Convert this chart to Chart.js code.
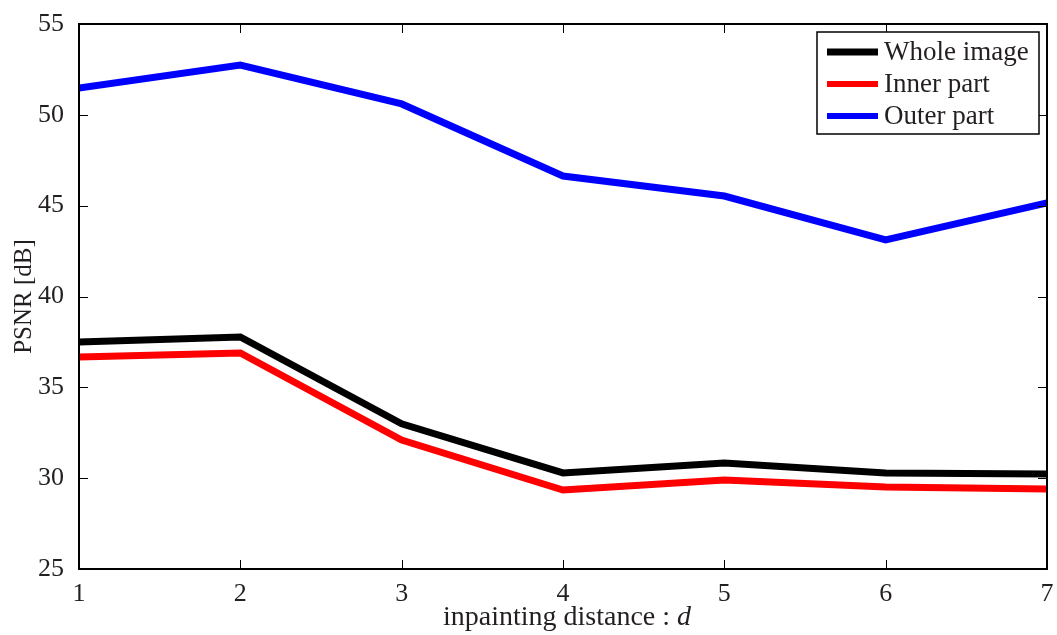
<!DOCTYPE html>
<html lang="en">
  <head>
    <meta charset="UTF-8">
    <title>PSNR vs inpainting distance</title>
    <style>
      body { margin: 0; background: #fff; }
    </style>
    <script src="https://cdn.jsdelivr.net/npm/chart.js"></script>
  </head>

  <body>
    <canvas id="myChart" width="1057" height="635"></canvas>

<script>
  const distances = [1, 2, 3, 4, 5, 6, 7];
  const wholeImage = [37.5, 37.77, 32.99, 30.29, 30.84, 30.29, 30.23];
  const innerPart = [36.67, 36.89, 32.1, 29.35, 29.9, 29.52, 29.41];
  const outerPart = [51.48, 52.74, 50.6, 46.63, 45.53, 43.11, 45.15];
  const yTicks = [25, 30, 35, 40, 45, 50, 55];

  const textColor = '#231f20';
  const serif = '"Liberation Serif", "Times New Roman", serif';

  function toPoints(values) {
    return distances.map((d, i) => ({ x: d, y: values[i] }));
  }

  // matlab style box, inward ticks, legend and axis titles
  const matlabFrame = {
    id: 'matlabFrame',
    afterDraw(chart) {
      const c = chart.ctx;
      const a = chart.chartArea;
      const xs = chart.scales.x;
      const ys = chart.scales.y;
      c.save();
      c.strokeStyle = '#000';
      c.lineWidth = 2;
      c.strokeRect(a.left, a.top, a.right - a.left, a.bottom - a.top);

      c.lineWidth = 1;
      c.beginPath();
      distances.forEach(d => {
        const px = Math.round(xs.getPixelForValue(d)) + 0.5;
        c.moveTo(px, a.bottom); c.lineTo(px, a.bottom - 9);
        c.moveTo(px, a.top); c.lineTo(px, a.top + 9);
      });
      yTicks.forEach(v => {
        const py = Math.round(ys.getPixelForValue(v)) + 0.5;
        c.moveTo(a.left, py); c.lineTo(a.left + 9, py);
        c.moveTo(a.right, py); c.lineTo(a.right - 9, py);
      });
      c.stroke();

      // legend
      const lx = 817, ly = 32, lw = 222, lh = 102;
      c.fillStyle = '#fff';
      c.fillRect(lx, ly, lw, lh);
      c.strokeStyle = '#000';
      c.lineWidth = 1.5;
      c.strokeRect(lx, ly, lw, lh);
      c.font = '27px ' + serif;
      c.textBaseline = 'middle';
      chart.data.datasets.forEach((ds, i) => {
        const y = ly + 20 + i * 32;
        c.strokeStyle = ds.borderColor;
        c.lineWidth = i === 0 ? 7 : 6;
        c.beginPath();
        c.moveTo(lx + 10, y); c.lineTo(lx + 61, y);
        c.stroke();
        c.fillStyle = textColor;
        c.textAlign = 'left';
        c.fillText(ds.label, lx + 67, y + 1);
      });

      // x title with italic d
      c.fillStyle = textColor;
      c.textBaseline = 'alphabetic';
      c.textAlign = 'left';
      const t1 = 'inpainting distance : ';
      c.font = '28px ' + serif;
      const w1 = c.measureText(t1).width;
      c.font = 'italic 28px ' + serif;
      const w2 = c.measureText('d').width;
      const startX = (a.left + a.right) / 2 - (w1 + w2) / 2 + 4;
      c.font = '28px ' + serif;
      c.fillText(t1, startX, 625);
      c.font = 'italic 28px ' + serif;
      c.fillText('d', startX + w1, 625);

      // y title
      c.save();
      c.translate(24, (a.top + a.bottom) / 2);
      c.rotate(-Math.PI / 2);
      c.textAlign = 'center';
      c.textBaseline = 'middle';
      c.font = '25px ' + serif;
      c.fillText('PSNR [dB]', 0, 0);
      c.restore();

      c.restore();
    }
  };

  const chart = new Chart(document.getElementById('myChart'), {
    type: 'line',
    data: {
      datasets: [
        { label: 'Whole image', data: toPoints(wholeImage), borderColor: '#000000' },
        { label: 'Inner part', data: toPoints(innerPart), borderColor: '#ff0000' },
        { label: 'Outer part', data: toPoints(outerPart), borderColor: '#0000ff' },
      ]
    },
    options: {
      responsive: false,
      animation: false,
      layout: { padding: { top: 24, right: 10, left: 0, bottom: 0 } },
      elements: {
        line: { borderWidth: 7, tension: 0, borderJoinStyle: 'miter' },
        point: { radius: 0 }
      },
      plugins: {
        legend: { display: false },
        tooltip: { enabled: false }
      },
      scales: {
        x: {
          type: 'linear',
          min: 1,
          max: 7,
          afterFit: s => { s.height = 66; },
          afterBuildTicks: s => { s.ticks = distances.map(v => ({ value: v })); },
          grid: { display: false },
          border: { display: false },
          ticks: { color: textColor, font: { family: serif, size: 26 }, padding: 2, maxRotation: 0 }
        },
        y: {
          min: 25,
          max: 55,
          afterFit: s => { s.width = 79; },
          afterBuildTicks: s => { s.ticks = yTicks.map(v => ({ value: v })); },
          grid: { display: false },
          border: { display: false },
          ticks: { color: textColor, font: { family: serif, size: 26 }, padding: 7 }
        }
      }
    },
    plugins: [matlabFrame]
  });
</script>

  </body>
</html>
